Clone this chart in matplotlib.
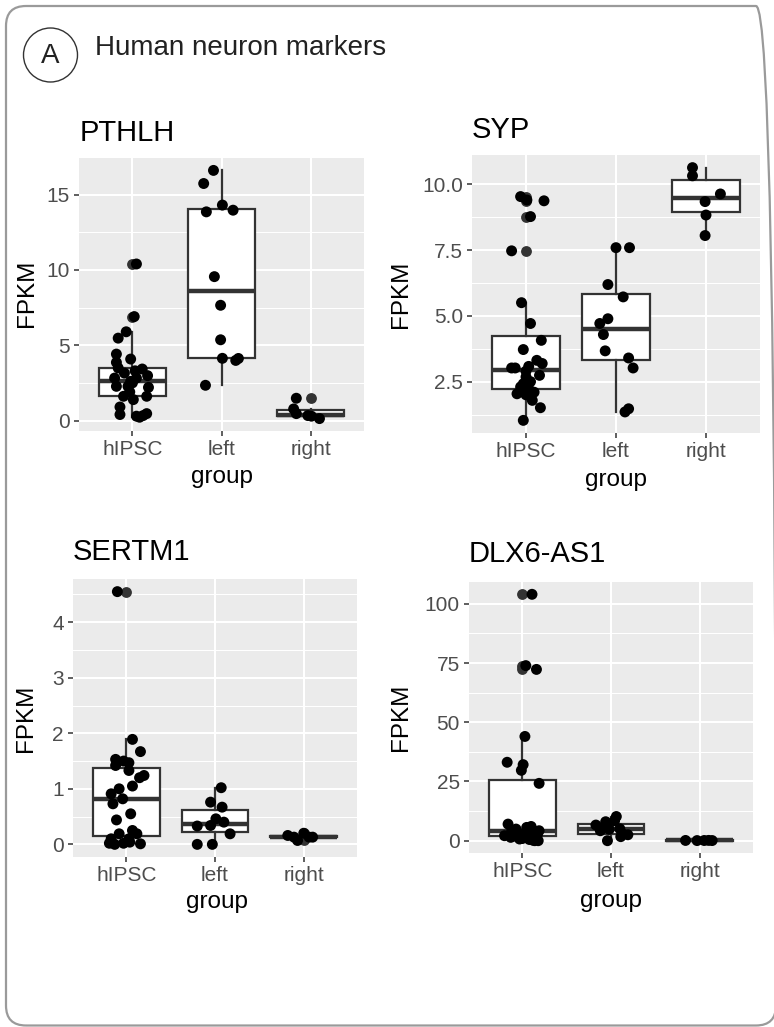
import matplotlib
matplotlib.use("Agg")
import matplotlib.pyplot as plt
from matplotlib.patches import FancyBboxPatch, Circle
from matplotlib.ticker import FixedLocator
import numpy as np

plt.rcParams['font.family'] = ['Liberation Sans', 'DejaVu Sans']

groups = ["hIPSC", "left", "right"]

# ---------------- data (values and jitter offsets) ----------------
pthlh_hipsc = [10.39, 6.9, 5.89, 5.47, 4.41, 4.08, 3.86, 3.49, 3.42, 3.3, 3.15, 2.98, 2.82, 2.82,
               2.6, 2.5, 2.27, 2.27, 2.2, 1.9, 1.61, 1.61, 1.39, 0.9, 0.46, 0.4, 0.33, 0.29, 0.22]
pthlh_hipsc_jit = [0.045, 0.02, -0.07, -0.16, -0.18, -0.02, -0.18, -0.16, 0.11, 0.03, -0.09, 0.17, -0.2, 0.045,
                   -0.02, 0.0, -0.18, -0.05, 0.18, -0.03, -0.1, 0.16, 0.01, -0.14, 0.16, -0.14, 0.12, 0.045, 0.08]
pthlh_left = [16.6, 15.73, 14.3, 13.96, 13.85, 9.55, 7.65, 5.36, 4.13, 4.12, 3.99, 2.34]
pthlh_left_jit = [-0.09, -0.2, 0.01, 0.13, -0.17, -0.08, -0.01, -0.01, 0.01, 0.19, 0.16, -0.18]
pthlh_right = [1.48, 0.77, 0.46, 0.33, 0.29, 0.13]
pthlh_right_jit = [-0.16, -0.19, -0.16, -0.03, 0.01, 0.1]

syp_hipsc = [9.53, 9.4, 9.37, 8.77, 7.47, 5.5, 4.71, 4.07, 3.72, 3.31, 3.19, 3.08, 3.02, 3.02, 2.9,
             2.74, 2.68, 2.5, 2.42, 2.3, 2.23, 2.15, 2.1, 2.04, 2.0, 1.79, 1.51, 1.03]
syp_hipsc_jit = [-0.06, 0.01, 0.2, 0.05, -0.16, -0.05, 0.05, 0.17, -0.03, 0.12, 0.18, 0.03, -0.16, -0.12, 0.0,
                 0.15, 0.0, 0.05, -0.03, -0.06, 0.03, -0.02, 0.09, -0.1, 0.0, 0.07, 0.16, -0.03]
syp_left = [7.59, 7.59, 6.19, 5.72, 4.89, 4.71, 4.29, 3.67, 3.4, 3.02, 1.47, 1.35]
syp_left_jit = [0.0, 0.15, -0.09, 0.08, -0.09, -0.18, -0.14, -0.12, 0.14, 0.19, 0.14, 0.1]
syp_right = [10.63, 10.32, 9.63, 9.34, 8.83, 8.05]
syp_right_jit = [-0.15, -0.15, 0.16, -0.01, 0.0, -0.01]

sertm1_hipsc = [4.55, 1.89, 1.67, 1.53, 1.5, 1.47, 1.42, 1.33, 1.24, 1.2, 1.05, 1.0, 0.91, 0.82,
                0.73, 0.55, 0.44, 0.25, 0.19, 0.19, 0.10, 0.10, 0.02, 0.0, 0.02, 0.04, 0.01]
sertm1_hipsc_jit = [-0.1, 0.07, 0.16, -0.12, -0.03, 0.03, -0.12, 0.03, 0.2, 0.15, 0.07, -0.08, -0.17, -0.04,
                    -0.15, 0.05, -0.11, 0.07, 0.12, -0.08, -0.17, 0.03, -0.19, -0.13, -0.03, 0.04, 0.16]
sertm1_left = [1.02, 0.76, 0.67, 0.46, 0.40, 0.34, 0.33, 0.19, 0.0, 0.0]
sertm1_left_jit = [0.07, -0.05, 0.08, 0.01, 0.1, -0.05, -0.2, 0.17, -0.2, -0.03]
sertm1_right = [0.16, 0.13, 0.07, 0.2, 0.13, 0.13]
sertm1_right_jit = [-0.18, -0.11, -0.07, 0.0, 0.06, 0.1]

dlx6_hipsc = [104.0, 73.9, 72.3, 44.0, 33.1, 32.1, 29.7, 24.2, 7.0, 6.0, 5.6, 4.9, 4.2, 4.0, 3.8,
              3.0, 2.8, 2.5, 2.1, 2.1, 1.9, 1.4, 0.9, 0.7, 0.5, 0.2, 0.0, 0.0]
dlx6_hipsc_jit = [0.11, 0.04, 0.16, 0.03, -0.17, 0.01, -0.01, 0.19, -0.16, 0.1, 0.05, -0.07, 0.19, -0.12, 0.14,
                  -0.03, 0.04, 0.17, -0.2, 0.13, -0.1, -0.13, 0.0, -0.03, 0.08, 0.12, 0.14, 0.18]
dlx6_left = [10.2, 8.4, 8.0, 6.6, 5.6, 5.0, 4.8, 4.2, 2.9, 2.5, 1.7, 0.0]
dlx6_left_jit = [0.06, 0.04, -0.06, -0.17, -0.09, 0.10, -0.02, -0.12, 0.13, 0.19, 0.11, -0.04]
dlx6_right = [0.1, 0.05, 0.08, 0.12, 0.06]
dlx6_right_jit = [-0.16, -0.03, 0.05, 0.1, 0.14]

pthlh_ticks = [0, 5, 10, 15]
pthlh_ticklabels = ["0", "5", "10", "15"]
syp_ticks = [2.5, 5.0, 7.5, 10.0]
syp_ticklabels = ["2.5", "5.0", "7.5", "10.0"]
sertm1_ticks = [0, 1, 2, 3, 4]
sertm1_ticklabels = ["0", "1", "2", "3", "4"]
dlx6_ticks = [0, 25, 50, 75, 100]
dlx6_ticklabels = ["0", "25", "50", "75", "100"]

header = "Human neuron markers"
panel_letter = "A"

# ---------------- figure ----------------
W, H = 774, 1027
fig = plt.figure(figsize=(W / 100, H / 100), dpi=100)


def px(x, y):
    return x / W, 1 - y / H


def ax_rect(x0, y0, x1, y1):
    return [x0 / W, 1 - y1 / H, (x1 - x0) / W, (y1 - y0) / H]


BOX = "#333333"
TICKC = "#4D4D4D"


def panel(rect, title, title_xy, data, jits, ticks, ticklabels, ylab_xy, xlab_xy):
    ax = fig.add_axes(rect)
    ax.set_facecolor("#EBEBEB")
    for s in ax.spines.values():
        s.set_visible(False)
    ax.boxplot(data, positions=[1, 2, 3], widths=0.75, patch_artist=True, showcaps=False,
               whis=1.5,
               boxprops=dict(facecolor="white", edgecolor=BOX, linewidth=1.6),
               medianprops=dict(color=BOX, linewidth=3.2, solid_capstyle="butt"),
               whiskerprops=dict(color=BOX, linewidth=1.6),
               flierprops=dict(marker="o", markerfacecolor=BOX, markeredgecolor="none",
                               markersize=7.8),
               zorder=2)
    for i, (d, j) in enumerate(zip(data, jits)):
        ax.scatter(np.array(j) + i + 1, d, s=62, color="black", edgecolors="none", zorder=3)
    allv = np.concatenate([np.asarray(d) for d in data])
    lo, hi = allv.min(), allv.max()
    pad = (hi - lo) * 0.05
    ax.set_ylim(lo - pad, hi + pad)
    ax.set_xlim(0.4, 3.6)
    ax.set_xticks([1, 2, 3])
    ax.set_xticklabels(groups)
    ax.set_yticks(ticks)
    ax.set_yticklabels(ticklabels)
    step = ticks[1] - ticks[0]
    minors = [ticks[0] - step / 2] + [t + step / 2 for t in ticks]
    ax.yaxis.set_minor_locator(FixedLocator(minors))
    ax.tick_params(which="major", length=3.5, width=1.1, color=BOX, labelcolor=TICKC,
                   labelsize=15, pad=3)
    ax.tick_params(which="minor", length=0)
    ax.grid(True, which="major", color="white", lw=1.5)
    ax.grid(True, which="minor", axis="y", color="white", lw=0.75)
    ax.set_axisbelow(True)
    tx, ty = px(*title_xy)
    fig.text(tx, ty, title, fontsize=21, ha="left", va="baseline", color="black")
    lx, ly = px(*ylab_xy)
    fig.text(lx, ly, "FPKM", fontsize=17.5, rotation=90, ha="center", va="center", color="black")
    gx, gy = px(*xlab_xy)
    fig.text(gx, gy, "group", fontsize=17.5, ha="center", va="center", color="black")
    return ax


panel(ax_rect(79, 158, 364, 431), "PTHLH", (80, 141),
      [pthlh_hipsc, pthlh_left, pthlh_right], [pthlh_hipsc_jit, pthlh_left_jit, pthlh_right_jit],
      pthlh_ticks, pthlh_ticklabels, (27, 293), (222, 477))
panel(ax_rect(472, 155, 760, 433), "SYP", (472, 138),
      [syp_hipsc, syp_left, syp_right], [syp_hipsc_jit, syp_left_jit, syp_right_jit],
      syp_ticks, syp_ticklabels, (401, 294), (616, 480))
panel(ax_rect(73, 579, 357, 857), "SERTM1", (73, 560),
      [sertm1_hipsc, sertm1_left, sertm1_right], [sertm1_hipsc_jit, sertm1_left_jit, sertm1_right_jit],
      sertm1_ticks, sertm1_ticklabels, (26, 718), (217, 902))
panel(ax_rect(469, 582, 753, 853), "DLX6-AS1", (469, 562),
      [dlx6_hipsc, dlx6_left, dlx6_right], [dlx6_hipsc_jit, dlx6_left_jit, dlx6_right_jit],
      dlx6_ticks, dlx6_ticklabels, (401, 717), (611, 901))

# outer rounded frame
frame = FancyBboxPatch((0.06, 0.015), 7.70, 10.195, boxstyle="round,pad=0,rounding_size=0.2",
                       transform=fig.dpi_scale_trans, facecolor="none", edgecolor="#9A9A9A",
                       linewidth=1.6, zorder=0)
fig.add_artist(frame)
circ = Circle((0.505, (H - 55) / 100), 0.27, transform=fig.dpi_scale_trans, facecolor="none",
              edgecolor="#333333", linewidth=1.0)
fig.add_artist(circ)
fig.text(*px(50.5, 63), panel_letter, fontsize=20, ha="center", va="baseline", color="#222222")
fig.text(*px(95, 55), header, fontsize=20, ha="left", va="baseline", color="#222222")

fig.savefig("out.png", dpi=100)
